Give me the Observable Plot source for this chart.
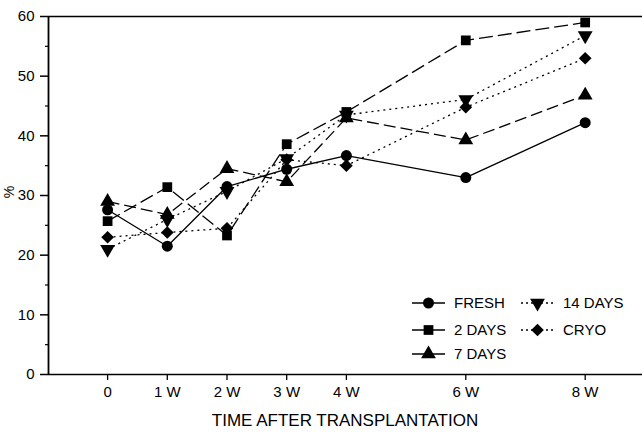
<!DOCTYPE html>
<html><head><meta charset="utf-8">
<script src="https://cdn.jsdelivr.net/npm/d3@7"></script>
<script src="https://cdn.jsdelivr.net/npm/@observablehq/plot@0.6"></script>
<style>
body{margin:0;background:#fff}
svg{font-family:"Liberation Sans",Arial,Helvetica,sans-serif}
</style>
</head><body><div id="chart"></div>
<script>
// ---- data ----
const weeks = [0, 1, 2, 3, 4, 6, 8];
const weekLabels = ["0", "1 W", "2 W", "3 W", "4 W", "6 W", "8 W"];
const seriesNames = ["FRESH", "2 DAYS", "7 DAYS", "14 DAYS", "CRYO"];
const fresh  = [27.6, 21.5, 31.5, 34.4, 36.7, 33.0, 42.2];
const days2  = [25.7, 31.4, 23.3, 38.6, 44.0, 56.0, 59.0];
const days7  = [29.0, 26.8, 34.5, 32.3, 43.0, 39.3, 46.8];
const days14 = [21.0, 26.0, 30.7, 36.2, 43.5, 46.1, 56.8];
const cryo   = [23.0, 23.8, 24.5, 36.0, 35.0, 44.8, 53.0];
const yTicks = [0, 10, 20, 30, 40, 50, 60];
const yMinorTicks = [5, 15, 25, 35, 45, 55];
const xTitle = "TIME AFTER TRANSPLANTATION";
const yTitle = "%";

// ---- styles ----
const invTriangle = {
  draw(ctx, size) {
    const y = -Math.sqrt(size / (Math.sqrt(3) * 3));
    ctx.moveTo(0, -y * 2);
    ctx.lineTo(-Math.sqrt(3) * y, y);
    ctx.lineTo(Math.sqrt(3) * y, y);
    ctx.closePath();
  }
};
const wideDiamond = {
  draw(ctx, size) {
    const h = Math.sqrt(size / 2) * 0.92;
    ctx.moveTo(0, -h);
    ctx.lineTo(h, 0);
    ctx.lineTo(0, h);
    ctx.lineTo(-h, 0);
    ctx.closePath();
  }
};
const styles = {
  "FRESH":   {symbol: d3.symbolCircle,   dash: null,   r: 5.5},
  "2 DAYS":  {symbol: d3.symbolSquare,   dash: "14,5", r: 5.5},
  "7 DAYS":  {symbol: d3.symbolTriangle, dash: "12,5", r: 5.5},
  "14 DAYS": {symbol: invTriangle,       dash: "2,4",  r: 5.5},
  "CRYO":    {symbol: wideDiamond,       dash: "2,4",  r: 5.5}
};
const valuesBySeries = [fresh, days2, days7, days14, cryo];
const rows = seriesNames.flatMap((s, k) =>
  weeks.map((w, i) => ({series: s, week: w, value: valuesBySeries[k][i]})));

const xDomain = [-0.99, 8.96];
const yDomain = [0, 60];

const seriesMarks = seriesNames.flatMap(s => {
  const data = rows.filter(d => d.series === s);
  const st = styles[s];
  return [
    Plot.line(data, {x: "week", y: "value", stroke: "#000", strokeWidth: 1.3,
      strokeDasharray: st.dash ?? undefined, strokeLinecap: "butt"}),
    Plot.dot(data, {x: "week", y: "value", symbol: st.symbol, r: st.r, fill: "#000", stroke: "none"})
  ];
});

const plot = Plot.plot({
  width: 642,
  height: 432,
  marginLeft: 48,
  marginRight: 0,
  marginTop: 16,
  marginBottom: 58,
  style: {fontSize: "15px", fontFamily: "'Liberation Sans', Arial, sans-serif", color: "#000", background: "#fff"},
  x: {domain: xDomain},
  y: {domain: yDomain},
  marks: [
    Plot.axisY(yTicks, {tickSize: 8, tickPadding: 6, label: null, strokeWidth: 1.5}),
    Plot.axisY(yMinorTicks, {tickSize: 3, text: null, label: null, strokeWidth: 1.2}),
    Plot.axisX(weeks, {tickSize: 6, tickPadding: 6, label: null, strokeWidth: 1.3,
      tickFormat: d => weekLabels[weeks.indexOf(d)]}),
    Plot.ruleY([yDomain[0]], {stroke: "#000", strokeWidth: 1.6}),
    Plot.ruleY([yDomain[1]], {stroke: "#000", strokeWidth: 1.6}),
    Plot.ruleX([xDomain[0]], {stroke: "#000", strokeWidth: 1.8}),
    ...seriesMarks
  ]
});

// titles and legend
const svg = d3.select(plot);
svg.append("text").attr("x", 345).attr("y", 426).attr("text-anchor", "middle")
  .attr("font-size", 17).attr("fill", "#000").text(xTitle);
svg.append("text").attr("transform", "translate(14,192) rotate(-90)")
  .attr("text-anchor", "middle").attr("font-size", 14).attr("fill", "#000").text(yTitle);

const legendLayout = [
  {name: "FRESH",   x: 412, y: 303},
  {name: "2 DAYS",  x: 412, y: 330},
  {name: "7 DAYS",  x: 412, y: 354},
  {name: "14 DAYS", x: 521, y: 303},
  {name: "CRYO",    x: 521, y: 330}
];
const lg = svg.append("g").attr("text-anchor", "start");
legendLayout.forEach(L => {
  const st = styles[L.name];
  lg.append("line").attr("x1", L.x).attr("x2", L.x + 33).attr("y1", L.y).attr("y2", L.y)
    .attr("stroke", "#000").attr("stroke-width", 1.3)
    .attr("stroke-dasharray", st.dash && st.dash.startsWith("2") ? "2,3" : null);
  lg.append("path").attr("transform", `translate(${L.x + 16.5},${L.y})`)
    .attr("d", d3.symbol().type(st.symbol).size(Math.PI * st.r * st.r)()).attr("fill", "#000");
  lg.append("text").attr("x", L.x + 42).attr("y", L.y).attr("dy", "0.36em")
    .attr("text-anchor", "start")
    .attr("font-size", 15).attr("fill", "#000").text(L.name);
});

document.getElementById("chart").appendChild(plot);
</script>
</body></html>
